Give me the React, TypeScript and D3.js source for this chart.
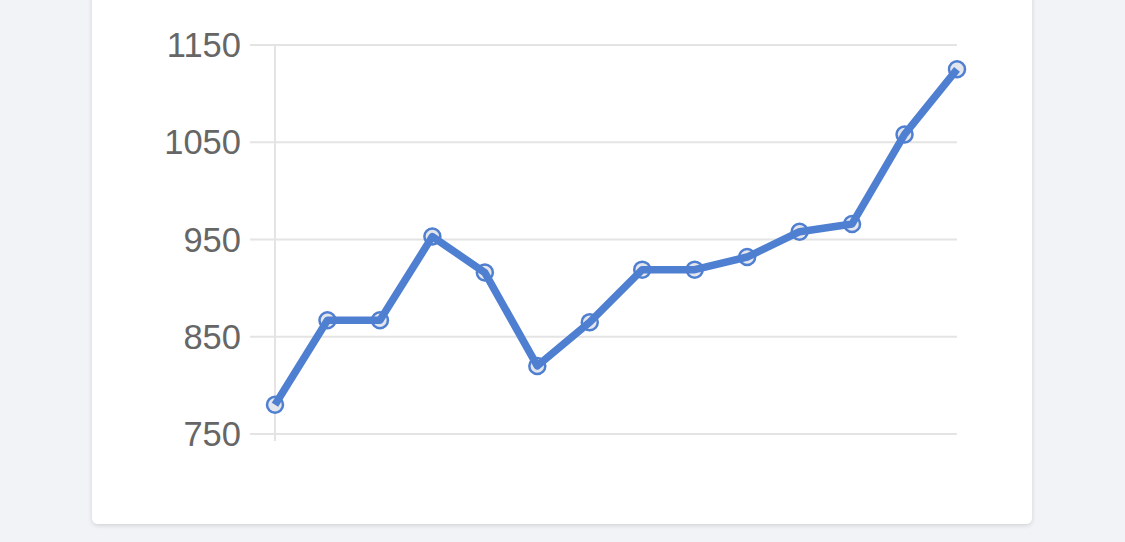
import React, { useEffect, useRef } from "react";
import * as d3 from "d3";

const categories = ["1", "2", "3", "4", "5", "6", "7", "8", "9", "10", "11", "12", "13", "14"];
const values = [780, 867, 867, 953, 916, 820, 865, 919, 919, 932, 958, 966, 1058, 1125];
const yTicks = [750, 850, 950, 1050, 1150];

const W = 1125;
const H = 542;

const App = () => {
  const svgRef = useRef<SVGSVGElement>(null);

  useEffect(() => {
    const svg = d3.select(svgRef.current);
    svg.selectAll("*").remove();

    // page + card
    svg.append("rect").attr("width", W).attr("height", H).attr("fill", "#f2f3f7");
    const defs = svg.append("defs");
    const f = defs.append("filter").attr("id", "shadow").attr("x", "-5%").attr("y", "-5%").attr("width", "110%").attr("height", "110%");
    f.append("feDropShadow").attr("dx", 0).attr("dy", 1.5).attr("stdDeviation", 2).attr("flood-color", "#000").attr("flood-opacity", 0.14);
    svg
      .append("rect")
      .attr("x", 92)
      .attr("y", -20)
      .attr("width", 940)
      .attr("height", 544)
      .attr("rx", 6)
      .attr("fill", "#fff")
      .attr("filter", "url(#shadow)");

    const x = d3
      .scalePoint()
      .domain(categories)
      .range([275, 957]);

    const y = d3.scaleLinear().domain([750, 1150]).range([434, 45]);

    // gridlines
    svg
      .append("g")
      .selectAll("line")
      .data(yTicks)
      .enter()
      .append("line")
      .attr("x1", 250)
      .attr("x2", 957)
      .attr("y1", (d) => y(d))
      .attr("y2", (d) => y(d))
      .attr("stroke", "#e4e4e4")
      .attr("stroke-width", 2);

    // y axis line
    svg
      .append("line")
      .attr("x1", 275)
      .attr("x2", 275)
      .attr("y1", y(1150))
      .attr("y2", y(750) + 7)
      .attr("stroke", "#e4e4e4")
      .attr("stroke-width", 2);

    // tick labels
    svg
      .append("g")
      .selectAll("text")
      .data(yTicks)
      .enter()
      .append("text")
      .attr("x", 241)
      .attr("y", (d) => y(d))
      .attr("dy", "0.35em")
      .attr("text-anchor", "end")
      .attr("font-family", "Liberation Sans, Arial, sans-serif")
      .attr("font-size", 34.5)
      .attr("fill", "#666")
      .text((d) => d);

    // points
    svg
      .append("g")
      .selectAll("circle")
      .data(values)
      .enter()
      .append("circle")
      .attr("cx", (d, i) => x(categories[i]) as number)
      .attr("cy", (d) => y(d))
      .attr("r", 8)
      .attr("fill", "#e3e6ec")
      .attr("stroke", "#4f7fd1")
      .attr("stroke-width", 2.5);

    // line
    const line = d3
      .line<number>()
      .x((d, i) => x(categories[i]) as number)
      .y((d) => y(d));

    svg
      .append("path")
      .datum(values)
      .attr("d", line)
      .attr("fill", "none")
      .attr("stroke", "#4f7fd1")
      .attr("stroke-width", 7.5)
      .attr("stroke-linejoin", "round");
  }, []);

  return <svg ref={svgRef} width={W} height={H} style={{ position: "absolute", left: 0, top: 0 }}></svg>;
};

export default App;
